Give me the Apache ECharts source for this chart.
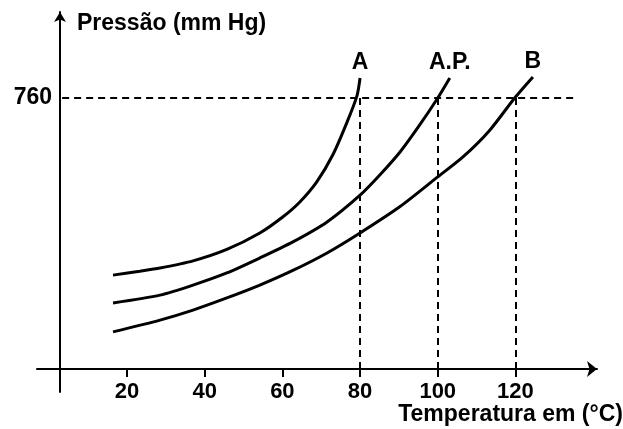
<!DOCTYPE html>
<html>
<head>
<meta charset="utf-8">
<script src="https://cdn.jsdelivr.net/npm/echarts@6/dist/echarts.min.js"></script>
<style>
html,body{margin:0;padding:0;background:#fff;}
#chart{width:623px;height:429px;}
</style>
</head>
<body>
<div id="chart"></div>
<script>
// Temperature (°C) / pressure (mm Hg) readings for each curve
var seriesNames = ['A', 'A.P.', 'B'];
var tempA = [16.4, 23.3, 28.5, 37.0, 45.7, 54.2, 60.0, 64.5, 68.9, 73.0, 76.6, 79.2, 80.0];
var presA = [263, 274, 283, 303, 335, 381, 425, 468, 525, 600, 690, 765, 815];
var tempAP = [16.4, 28.5, 37.0, 45.7, 54.2, 62.7, 71.5, 80.0, 85.2, 90.3, 95.0, 100.0, 103.1];
var presAP = [185, 207, 235, 269, 311, 356, 412, 487, 545, 608, 678, 759, 815];
var tempB = [16.4, 28.5, 37.0, 45.7, 54.2, 62.7, 71.5, 80.0, 90.3, 100.0, 106.5, 113.4, 119.8, 124.5];
var presB = [104, 137, 165, 199, 235, 276, 325, 381, 455, 538, 594, 669, 759, 818];
// Axis ticks and reference lines
var xTicks = [20, 40, 60, 80, 100, 120];
var yTicks = [760];
var refPressure = 760;
var boilingTemps = [80, 100, 120];
var refLineRange = [3.3, 136.1];
var xRange = [-3.17, 141];
var yRange = [-64.4, 1000];

var FONT = 'Liberation Sans, Arial, sans-serif';

function buildData(t, p, name) {
  return t.map(function (v, i) {
    var item = { value: [v, p[i]] };
    if (i === t.length - 1) {
      item.symbol = 'circle';
      item.symbolSize = 1;
      item.itemStyle = { color: 'rgba(0,0,0,0)' };
      item.label = {
        show: true, position: 'top', distance: 3,
        formatter: name, color: '#000', fontSize: 23, fontWeight: 'bold', fontFamily: FONT
      };
    }
    return item;
  });
}

var curves = [[tempA, presA], [tempAP, presAP], [tempB, presB]];

var refLines = [[{ coord: [refLineRange[0], refPressure] }, { coord: [refLineRange[1], refPressure] }]];
boilingTemps.forEach(function (t) {
  refLines.push([{ coord: [t, 0] }, { coord: [t, refPressure] }]);
});

var series = curves.map(function (c, i) {
  var s = {
    name: seriesNames[i],
    type: 'line',
    smooth: 0.25,
    showSymbol: true,
    symbol: 'none',
    lineStyle: { color: '#000', width: 3 },
    itemStyle: { color: '#000' },
    data: buildData(c[0], c[1], seriesNames[i]),
    z: 3
  };
  if (i === 0) {
    s.markLine = {
      silent: true,
      symbol: ['none', 'none'],
      label: { show: false },
      lineStyle: { color: '#000', type: [7, 5], width: 2 },
      data: refLines,
      z: 2
    };
  }
  return s;
});

var chart = echarts.init(document.getElementById('chart'));
chart.setOption({
  animation: false,
  backgroundColor: '#fff',
  grid: { left: 37, right: 26, top: 12, bottom: 37, containLabel: false, outerBoundsMode: 'none' },
  xAxis: {
    type: 'value',
    min: xRange[0], max: xRange[1],
    name: 'Temperatura em (°C)',
    nameLocation: 'end',
    nameGap: 26,
    nameMoveOverlap: false,
    nameTextStyle: {
      color: '#000', fontSize: 23, fontWeight: 'bold', fontFamily: FONT,
      align: 'right', verticalAlign: 'top', padding: [34, 0, 0, 0]
    },
    axisLine: {
      onZero: true,
      symbol: ['none', 'arrow'], symbolSize: [12, 10],
      lineStyle: { color: '#000', width: 2 }
    },
    axisTick: { show: true, customValues: xTicks, length: 8, lineStyle: { color: '#000', width: 2 } },
    axisLabel: {
      customValues: xTicks, margin: -11,
      color: '#000', fontSize: 22, fontWeight: 'bold', fontFamily: FONT
    },
    splitLine: { show: false }
  },
  yAxis: {
    type: 'value',
    min: yRange[0], max: yRange[1],
    offset: -23,
    name: 'Pressão (mm Hg)',
    nameLocation: 'end',
    nameGap: 0,
    nameMoveOverlap: false,
    nameTextStyle: {
      color: '#000', fontSize: 23, fontWeight: 'bold', fontFamily: FONT,
      align: 'left', verticalAlign: 'top', padding: [0, 0, 0, 17]
    },
    axisLine: {
      show: true, onZero: false,
      symbol: ['none', 'arrow'], symbolSize: [9, 10],
      lineStyle: { color: '#000', width: 2 }
    },
    axisTick: { show: false },
    axisLabel: {
      customValues: yTicks, margin: 8,
      color: '#000', fontSize: 23, fontWeight: 'bold', fontFamily: FONT
    },
    splitLine: { show: false }
  },
  series: series
});
</script>
</body>
</html>
